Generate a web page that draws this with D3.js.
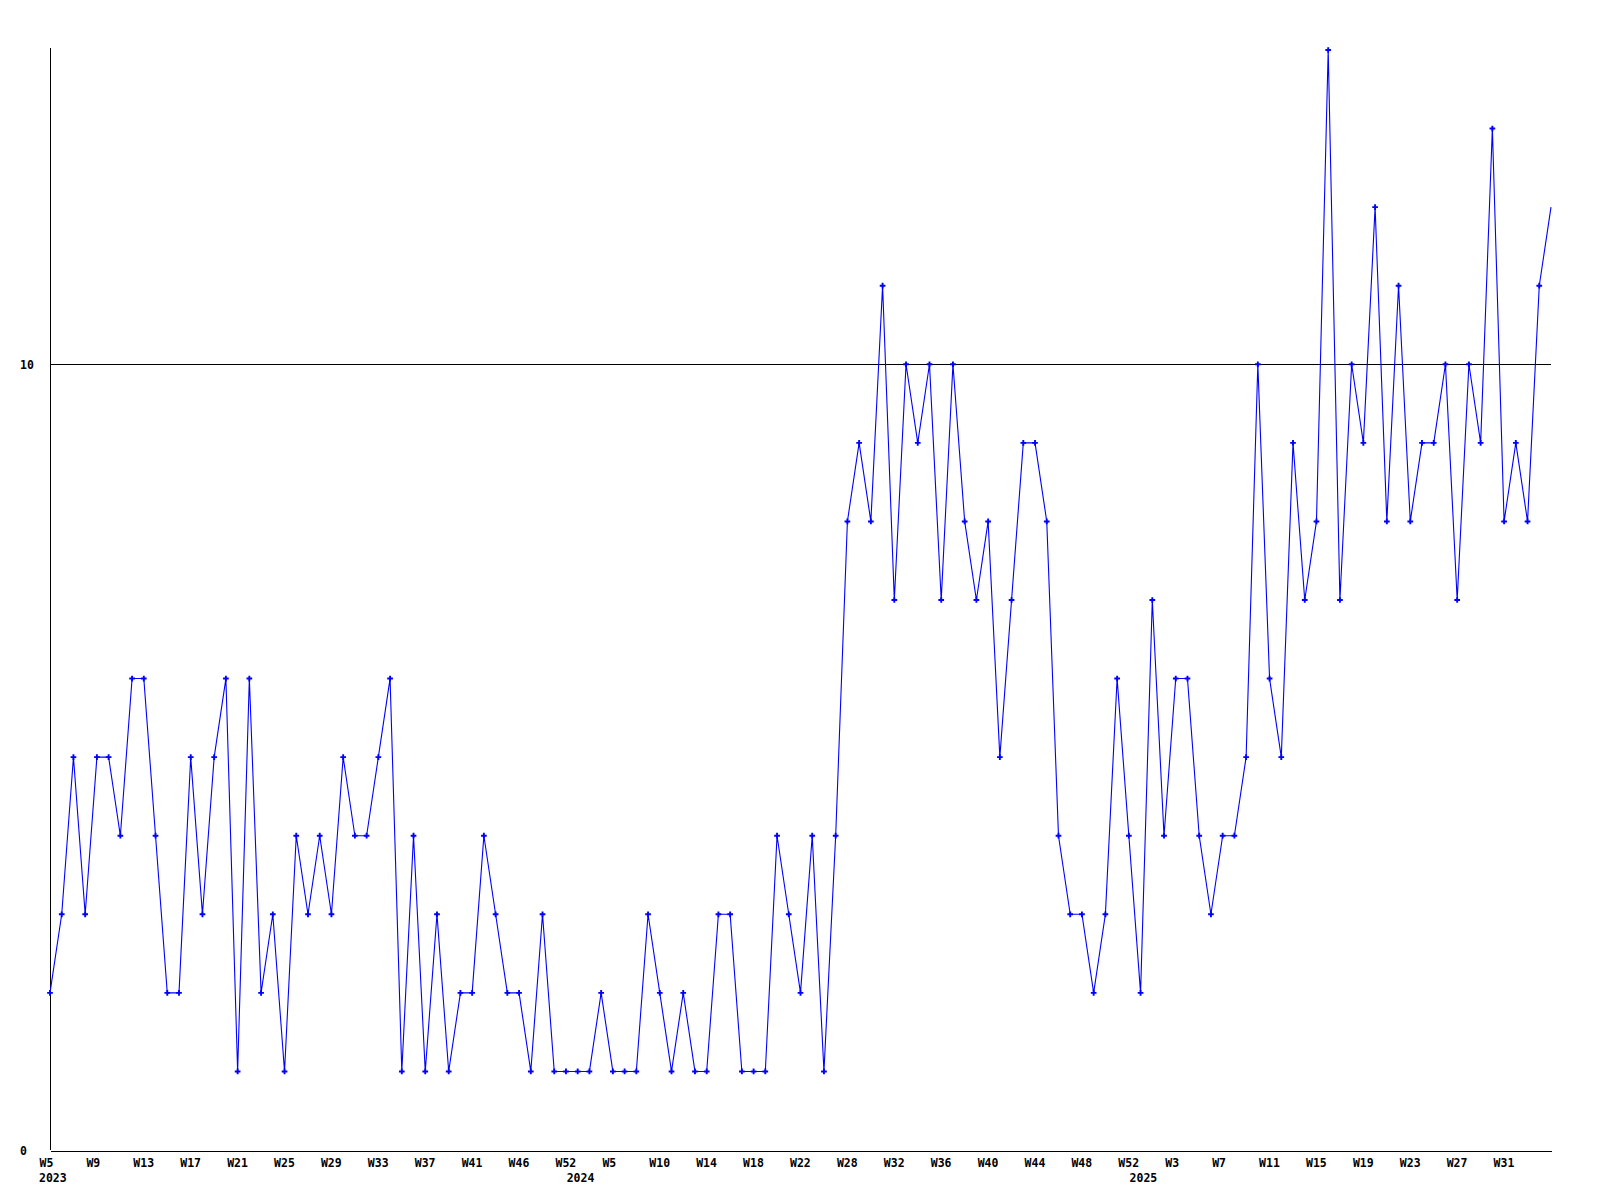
<!DOCTYPE html>
<html>
<head>
<meta charset="utf-8">
<script src="https://cdn.jsdelivr.net/npm/d3@7"></script>
<style>
  html, body { margin: 0; padding: 0; background: #fff; }
  svg { display: block; }
  text { font-family: "DejaVu Sans Mono", "Liberation Mono", monospace; font-weight: bold; font-size: 11.5px; fill: #000; }
</style>
</head>
<body>
<svg id="chart" width="1600" height="1200"></svg>
<script>
// Weekly values, one per point (2023 W5 ... 2025 ~W35)
const values = [
  2,3,5,3,5,5,4,6,6,4,
  2,2,5,3,5,6,1,6,2,3,
  1,4,3,4,3,5,4,4,5,6,
  1,4,1,3,1,2,2,4,3,2,
  2,1,3,1,1,1,1,2,1,1,
  1,3,2,1,2,1,1,3,3,1,
  1,1,4,3,2,4,1,4,8,9,
  8,11,7,10,9,10,7,10,8,7,
  8,5,7,9,9,8,4,3,3,2,
  3,6,4,2,7,4,6,6,4,3,
  4,4,5,10,6,5,9,7,8,14,
  7,10,9,12,8,11,8,9,9,10,
  7,10,9,13,8,9,8,11,12
];
// Week tick labels, shown at every 4th point
const weekTicks = ["W5","W9","W13","W17","W21","W25","W29","W33","W37","W41","W46","W52",
  "W5","W10","W14","W18","W22","W28","W32","W36","W40","W44","W48","W52",
  "W3","W7","W11","W15","W19","W23","W27","W31"];
const tickStep = 4;
// Year labels and the point index where each year starts
const yearLabels = ["2023","2024","2025"];
const yearStartIndex = [0, 45, 93];
// Y axis labels and reference line
const yTicks = [0, 10];
const referenceValue = 10;
const yMax = 14;

const svg = d3.select("#chart");
const mLeft = 50, mRight = 1551, mTop = 50, mBottom = 1150;

const x = d3.scaleLinear().domain([0, values.length - 1]).range([mLeft, mRight]);
const y = d3.scaleLinear().domain([0, yMax]).range([mBottom, mTop]);

// Reference line at 10
svg.append("line")
  .attr("x1", mLeft).attr("x2", mRight)
  .attr("y1", Math.round(y(referenceValue)) + 0.5).attr("y2", Math.round(y(referenceValue)) + 0.5)
  .attr("stroke", "#000").attr("stroke-width", 1).attr("shape-rendering", "crispEdges");

// Bottom axis
const xAxis = svg.append("g")
  .attr("transform", `translate(0,${mBottom + 0.5})`)
  .call(d3.axisBottom(x)
    .tickValues(d3.range(0, weekTicks.length * tickStep, tickStep))
    .tickFormat((d, i) => weekTicks[i])
    .tickSize(0).tickSizeOuter(0));
xAxis.select(".domain").attr("stroke", "#000").attr("shape-rendering", "crispEdges");
xAxis.attr("font-size", null).attr("font-family", null);
xAxis.selectAll("text")
  .attr("text-anchor", "start")
  .attr("dx", -11)
  .attr("y", 12.5)
  .attr("dy", "0.35em");

// Year labels
svg.append("g").selectAll("text")
  .data(yearLabels)
  .join("text")
  .attr("x", (d, i) => x(yearStartIndex[i]) - 11)
  .attr("y", mBottom + 27.5)
  .attr("dy", "0.35em")
  .text(d => d);

// Left axis
const yAxis = svg.append("g")
  .attr("transform", `translate(${mLeft + 0.5},0)`)
  .call(d3.axisLeft(y).tickValues(yTicks).tickFormat(d3.format("d")).tickSize(0).tickSizeOuter(0));
yAxis.select(".domain").attr("stroke", "#000").attr("shape-rendering", "crispEdges")
  .attr("d", `M0,${mBottom}V${mTop - 2}`);
yAxis.attr("font-size", null).attr("font-family", null);
yAxis.selectAll("text")
  .attr("text-anchor", "start")
  .attr("x", 20 - (mLeft + 0.5))
  .attr("dy", "0.35em");

// Data line
svg.append("path")
  .datum(values)
  .attr("fill", "none")
  .attr("stroke", "#0000ff")
  .attr("stroke-width", 1.1)
  .attr("d", d3.line().x((d, i) => x(i)).y(d => y(d)));

// Point markers (last point sits on the right edge, drawn without a marker)
svg.append("g").selectAll("path")
  .data(values.slice(0, values.length - 1))
  .join("path")
  .attr("transform", (d, i) => `translate(${x(i)},${y(d)})`)
  .attr("d", d3.symbol(d3.symbolCross, 18))
  .attr("fill", "#0000ff");
</script>
</body>
</html>
